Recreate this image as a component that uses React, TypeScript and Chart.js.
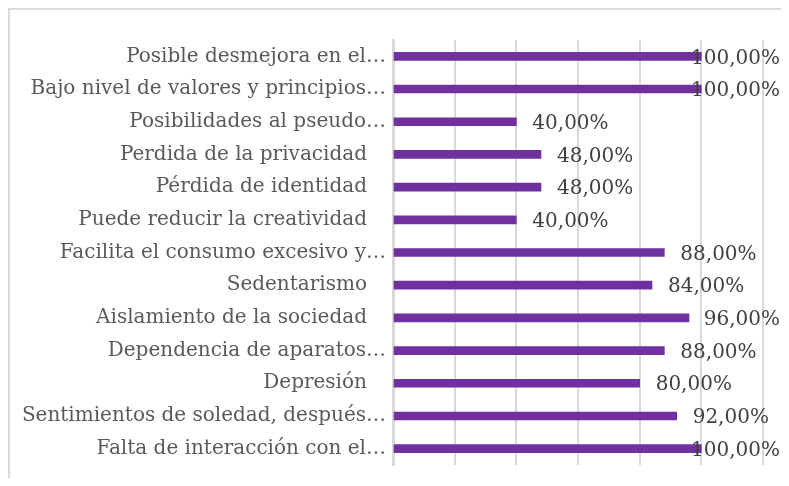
import React, { useEffect, useRef } from "react";
import { Chart, registerables } from "chart.js";

Chart.register(...registerables);

const categories = [
  "Posible desmejora en el…",
  "Bajo nivel de valores y principios…",
  "Posibilidades al pseudo…",
  "Perdida de la privacidad   ",
  "Pérdida de identidad   ",
  "Puede reducir la creatividad   ",
  "Facilita el consumo excesivo y…",
  "Sedentarismo   ",
  "Aislamiento de la sociedad   ",
  "Dependencia de aparatos…",
  "Depresión   ",
  "Sentimientos de soledad, después…",
  "Falta de interacción con el…",
];

const values = [100, 100, 40, 48, 48, 40, 88, 84, 96, 88, 80, 92, 100];

const axisMax = 120;
const axisStep = 20;

const FONT = "'DejaVu Serif', serif";

const valueLabels = {
  id: "valueLabels",
  afterDatasetsDraw(chart: any) {
    const ctx = chart.ctx;
    const meta = chart.getDatasetMeta(0);
    ctx.save();
    ctx.font = `20px ${FONT}`;
    ctx.fillStyle = "#404040";
    ctx.textBaseline = "middle";
    ctx.textAlign = "left";
    const limit = chart.width - 1;
    meta.data.forEach((el: any, i: number) => {
      const v = values[i];
      const txt = v.toFixed(2).replace(".", ",") + "%";
      const w = ctx.measureText(txt).width;
      let x = el.x + 16;
      if (x + w > limit) x = limit - w;
      ctx.fillText(txt, x, el.y + 2);
    });
    ctx.restore();
  },
};

export default function App() {
  const ref = useRef<HTMLCanvasElement | null>(null);
  useEffect(() => {
    if (!ref.current) return;
    const chart = new Chart(ref.current, {
      type: "bar",
      data: {
        labels: categories,
        datasets: [
          {
            data: values,
            backgroundColor: "#7030A0",
            borderWidth: 0,
            barThickness: 8,
          },
        ],
      },
      options: {
        indexAxis: "y",
        animation: false,
        responsive: true,
        maintainAspectRatio: false,
        layout: { padding: { top: 30, bottom: 13, right: 18, left: 0 } },
        plugins: {
          legend: { display: false },
          tooltip: { enabled: false },
        },
        scales: {
          x: {
            min: 0,
            max: axisMax,
            ticks: { display: false, stepSize: axisStep },
            grid: { color: "#d9d9d9", lineWidth: 2, drawTicks: false },
            border: { display: false },
            afterFit(scale: any) {
              scale.height = 0;
              scale.paddingLeft = 0;
              scale.paddingRight = 0;
            },
          },
          y: {
            grid: { display: false, drawTicks: false },
            border: { display: true, color: "#d9d9d9", width: 3 },
            ticks: {
              color: "#595959",
              padding: 7,
              font: { family: FONT, size: 20 },
            },
            afterFit(scale: any) {
              scale.width = 383;
              scale.paddingTop = 0;
              scale.paddingBottom = 0;
            },
          },
        },
      },
      plugins: [valueLabels],
    });
    return () => chart.destroy();
  }, []);
  return (
    <div
      style={{
        width: 771,
        height: 468,
        position: "relative",
        borderTop: "2px solid #d9d9d9",
        borderLeft: "2px solid #d9d9d9",
      }}
    >
      <canvas ref={ref} />
    </div>
  );
}
